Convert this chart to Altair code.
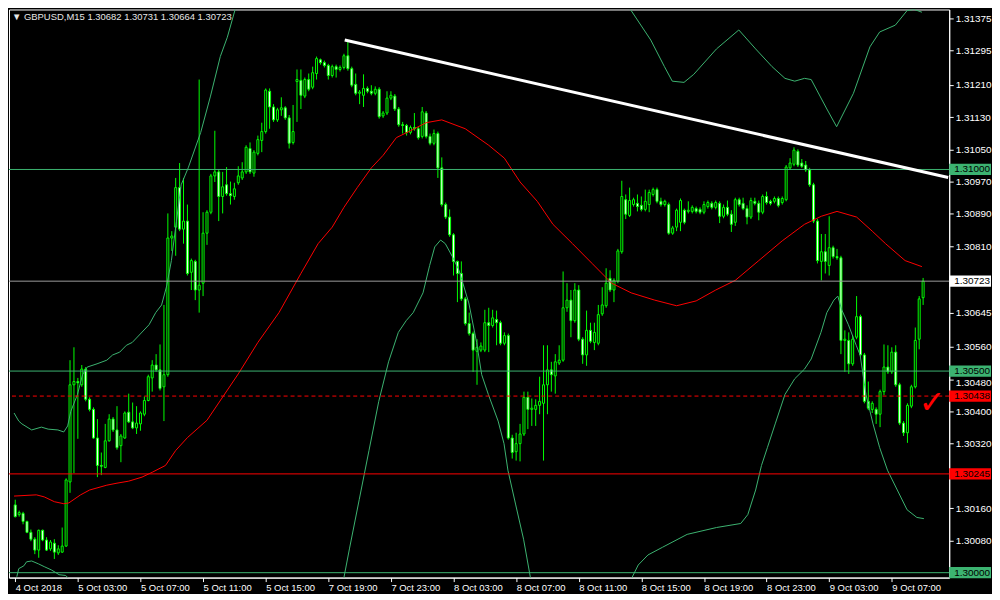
import altair as alt
import pandas as pd
import numpy as np

# ---------------- candle data (GBPUSD M15) ----------------
open_ = [
1.30168,1.30144,1.30147,1.30127,1.30100,1.30083,1.30056,1.30105,1.30081,1.30059,
1.30073,1.30049,1.30051,1.30066,1.30225,1.30466,1.30474,1.30466,1.30505,1.30430,
1.30405,1.30334,1.30266,1.30261,1.30327,1.30381,1.30354,1.30315,1.30334,1.30398,
1.30374,1.30359,1.30369,1.30393,1.30427,1.30483,1.30515,1.30503,1.30461,1.30491,
1.30830,1.30857,1.30955,1.30852,1.30872,1.30745,1.30772,1.30701,1.30718,1.30842,
1.30894,1.30984,1.30994,1.30933,1.30962,1.30940,1.30933,1.30967,1.30979,1.30994,
1.31052,1.30991,1.31040,1.31072,1.31094,1.31194,1.31155,1.31123,1.31148,1.31153,
1.31128,1.31067,1.31218,1.31221,1.31182,1.31223,1.31204,1.31238,1.31272,1.31265,
1.31258,1.31233,1.31255,1.31248,1.31253,1.31282,1.31250,1.31211,1.31189,1.31184,
1.31201,1.31194,1.31189,1.31199,1.31133,1.31140,1.31177,1.31182,1.31150,1.31111,
1.31109,1.31092,1.31104,1.31101,1.31082,1.31140,1.31082,1.31065,1.31089,1.31004,
1.30913,1.30882,1.30838,1.30772,1.30742,1.30679,1.30618,1.30593,1.30549,1.30552,
1.30552,1.30620,1.30613,1.30628,1.30620,1.30569,1.30588,1.30334,1.30300,1.30320,
1.30344,1.30435,1.30405,1.30405,1.30415,1.30420,1.30466,1.30503,1.30488,1.30520,
1.30527,1.30657,1.30676,1.30625,1.30701,1.30579,1.30540,1.30601,1.30571,1.30569,
1.30642,1.30662,1.30730,1.30701,1.30723,1.30796,1.30925,1.30886,1.30913,1.30916,
1.30911,1.30901,1.30913,1.30938,1.30950,1.30921,1.30913,1.30913,1.30842,1.30857,
1.30869,1.30899,1.30896,1.30896,1.30903,1.30901,1.30894,1.30908,1.30916,1.30906,
1.30916,1.30884,1.30906,1.30889,1.30869,1.30925,1.30916,1.30903,1.30882,1.30921,
1.30916,1.30894,1.30933,1.30921,1.30921,1.30928,1.30918,1.30925,1.31004,1.31013,
1.31045,1.31016,1.31011,1.30999,1.30962,1.30872,1.30772,1.30796,1.30762,1.30806,
1.30784,1.30781,1.30576,1.30576,1.30518,1.30584,1.30635,1.30540,1.30425,1.30405,
1.30405,1.30393,1.30449,1.30510,1.30498,1.30547,1.30466,1.30371,1.30347,1.30413,
1.30461,1.30579,1.30682]

high_ = [
1.30181,1.30154,1.30151,1.30129,1.30107,1.30088,1.30107,1.30107,1.30088,1.30081,
1.30083,1.30068,1.30112,1.30234,1.30527,1.30559,1.30483,1.30515,1.30510,1.30435,
1.30410,1.30381,1.30298,1.30369,1.30393,1.30386,1.30413,1.30344,1.30400,1.30444,
1.30422,1.30413,1.30400,1.30437,1.30491,1.30527,1.30542,1.30566,1.30664,1.30891,
1.30847,1.30979,1.31016,1.30979,1.30913,1.30779,1.30776,1.31223,1.30894,1.30899,
1.30989,1.31096,1.31001,1.30994,1.31006,1.30970,1.30967,1.31008,1.31018,1.31060,
1.31067,1.31048,1.31084,1.31116,1.31201,1.31201,1.31162,1.31153,1.31179,1.31157,
1.31135,1.31160,1.31248,1.31248,1.31228,1.31238,1.31255,1.31280,1.31275,1.31270,
1.31262,1.31260,1.31260,1.31258,1.31287,1.31321,1.31255,1.31238,1.31197,1.31236,
1.31206,1.31209,1.31206,1.31204,1.31145,1.31194,1.31194,1.31187,1.31155,1.31118,
1.31113,1.31109,1.31140,1.31106,1.31155,1.31145,1.31089,1.31099,1.31094,1.31030,
1.30918,1.30901,1.30842,1.30774,1.30772,1.30684,1.30645,1.30598,1.30579,1.30571,
1.30652,1.30657,1.30652,1.30650,1.30625,1.30596,1.30593,1.30342,1.30347,1.30369,
1.30449,1.30449,1.30432,1.30430,1.30486,1.30564,1.30564,1.30523,1.30542,1.30564,
1.30747,1.30718,1.30701,1.30718,1.30713,1.30584,1.30650,1.30620,1.30620,1.30664,
1.30708,1.30755,1.30750,1.30730,1.30803,1.30972,1.30938,1.30955,1.30930,1.30938,
1.30933,1.30950,1.30950,1.30955,1.30955,1.30930,1.30925,1.30918,1.30860,1.30903,
1.30928,1.30903,1.30921,1.30911,1.30908,1.30906,1.30921,1.30923,1.30921,1.30923,
1.30921,1.30913,1.30923,1.30899,1.30930,1.30930,1.30930,1.30911,1.30930,1.30930,
1.30923,1.30938,1.30945,1.30925,1.30933,1.30933,1.30933,1.31011,1.31028,1.31055,
1.31050,1.31026,1.31021,1.31004,1.30967,1.30877,1.30840,1.30840,1.30884,1.30811,
1.30803,1.30786,1.30601,1.30596,1.30588,1.30686,1.30640,1.30545,1.30474,1.30425,
1.30410,1.30454,1.30566,1.30564,1.30559,1.30564,1.30471,1.30376,1.30420,1.30466,
1.30608,1.30686,1.30731]

low_ = [
1.30137,1.30139,1.30120,1.30098,1.30078,1.30046,1.30037,1.30078,1.30054,1.30054,
1.30034,1.30044,1.30049,1.30064,1.30198,1.30247,1.30332,1.30461,1.30425,1.30400,
1.30332,1.30237,1.30242,1.30259,1.30325,1.30349,1.30305,1.30274,1.30332,1.30371,
1.30356,1.30344,1.30352,1.30388,1.30425,1.30449,1.30498,1.30452,1.30376,1.30486,
1.30798,1.30786,1.30847,1.30816,1.30737,1.30701,1.30676,1.30645,1.30686,1.30813,
1.30889,1.30969,1.30872,1.30891,1.30935,1.30913,1.30925,1.30962,1.30974,1.30989,
1.30989,1.30982,1.31035,1.31043,1.31089,1.31101,1.31118,1.31118,1.31133,1.31123,
1.31052,1.31062,1.31118,1.31150,1.31177,1.31194,1.31199,1.31223,1.31260,1.31253,
1.31223,1.31228,1.31228,1.31243,1.31248,1.31245,1.31204,1.31184,1.31162,1.31155,
1.31189,1.31184,1.31184,1.31126,1.31128,1.31135,1.31172,1.31145,1.31106,1.31089,
1.31084,1.31087,1.31096,1.31074,1.31077,1.31077,1.31060,1.31060,1.30979,1.30908,
1.30877,1.30833,1.30737,1.30671,1.30674,1.30613,1.30588,1.30498,1.30466,1.30547,
1.30547,1.30547,1.30608,1.30564,1.30564,1.30564,1.30330,1.30283,1.30278,1.30276,
1.30339,1.30356,1.30364,1.30364,1.30393,1.30278,1.30393,1.30449,1.30444,1.30515,
1.30523,1.30647,1.30584,1.30620,1.30574,1.30518,1.30513,1.30569,1.30552,1.30564,
1.30637,1.30657,1.30696,1.30671,1.30718,1.30791,1.30877,1.30882,1.30908,1.30896,
1.30896,1.30896,1.30894,1.30933,1.30916,1.30908,1.30908,1.30838,1.30838,1.30847,
1.30847,1.30864,1.30891,1.30891,1.30891,1.30889,1.30889,1.30903,1.30901,1.30901,
1.30867,1.30879,1.30884,1.30845,1.30860,1.30908,1.30899,1.30864,1.30877,1.30911,
1.30874,1.30889,1.30913,1.30911,1.30916,1.30906,1.30913,1.30921,1.30999,1.31008,
1.31006,1.31004,1.30994,1.30957,1.30867,1.30767,1.30725,1.30742,1.30737,1.30779,
1.30776,1.30542,1.30498,1.30493,1.30513,1.30579,1.30535,1.30420,1.30403,1.30396,
1.30369,1.30361,1.30440,1.30493,1.30493,1.30461,1.30366,1.30339,1.30322,1.30408,
1.30457,1.30554,1.30664]

close_ = [
1.30139,1.30149,1.30127,1.30100,1.30083,1.30056,1.30105,1.30081,1.30056,1.30076,
1.30051,1.30059,1.30066,1.30230,1.30466,1.30474,1.30471,1.30505,1.30430,1.30405,
1.30334,1.30266,1.30264,1.30327,1.30381,1.30354,1.30310,1.30339,1.30396,1.30374,
1.30359,1.30371,1.30396,1.30427,1.30486,1.30515,1.30503,1.30457,1.30491,1.30830,
1.30835,1.30955,1.30852,1.30872,1.30742,1.30774,1.30701,1.30713,1.30842,1.30894,
1.30984,1.30994,1.30933,1.30957,1.30940,1.30935,1.30952,1.30984,1.30994,1.31055,
1.30994,1.31043,1.31074,1.31094,1.31197,1.31155,1.31123,1.31148,1.31153,1.31128,
1.31065,1.31094,1.31223,1.31184,1.31223,1.31199,1.31240,1.31275,1.31265,1.31258,
1.31233,1.31255,1.31248,1.31253,1.31282,1.31250,1.31209,1.31189,1.31192,1.31201,
1.31194,1.31189,1.31199,1.31131,1.31140,1.31177,1.31184,1.31150,1.31111,1.31109,
1.31092,1.31104,1.31101,1.31079,1.31143,1.31082,1.31065,1.31089,1.31004,1.30913,
1.30882,1.30838,1.30772,1.30742,1.30679,1.30618,1.30593,1.30552,1.30559,1.30562,
1.30620,1.30613,1.30632,1.30620,1.30569,1.30588,1.30334,1.30298,1.30320,1.30344,
1.30435,1.30405,1.30408,1.30415,1.30425,1.30466,1.30503,1.30491,1.30523,1.30527,
1.30657,1.30676,1.30625,1.30701,1.30579,1.30540,1.30601,1.30574,1.30596,1.30640,
1.30664,1.30718,1.30701,1.30725,1.30798,1.30933,1.30889,1.30923,1.30925,1.30908,
1.30901,1.30921,1.30943,1.30950,1.30921,1.30913,1.30921,1.30842,1.30855,1.30899,
1.30923,1.30869,1.30899,1.30906,1.30896,1.30894,1.30913,1.30918,1.30906,1.30918,
1.30884,1.30906,1.30889,1.30864,1.30925,1.30913,1.30903,1.30882,1.30923,1.30916,
1.30894,1.30933,1.30918,1.30916,1.30928,1.30911,1.30928,1.31006,1.31016,1.31048,
1.31011,1.31008,1.30999,1.30962,1.30872,1.30774,1.30796,1.30772,1.30806,1.30784,
1.30781,1.30576,1.30579,1.30518,1.30579,1.30635,1.30540,1.30425,1.30408,1.30420,
1.30393,1.30449,1.30510,1.30498,1.30547,1.30466,1.30371,1.30347,1.30415,1.30461,
1.30576,1.30679,1.30723]

x_labels = ["4 Oct 2018", "5 Oct 03:00", "5 Oct 07:00", "5 Oct 11:00", "5 Oct 15:00",
            "7 Oct 19:00", "7 Oct 23:00", "8 Oct 03:00", "8 Oct 07:00", "8 Oct 11:00",
            "8 Oct 15:00", "8 Oct 19:00", "8 Oct 23:00", "9 Oct 03:00", "9 Oct 07:00"]
y_ticks = [1.31375, 1.31295, 1.31210, 1.31130, 1.31050, 1.30970, 1.30890, 1.30810,
           1.30645, 1.30560, 1.30480, 1.30400, 1.30320, 1.30160, 1.30080]

# ---------------- red moving average ----------------
ma_idx = [-0.3, 5.4, 7.4, 10, 12.4, 13.7, 16.7, 19, 23.4, 26, 29, 32.4, 35, 38.4, 41, 44, 49, 57,
          62, 67.4, 73, 77.4, 81, 84, 87.4, 91, 94, 97.4, 101, 105, 109, 115, 121, 125, 129, 133.4,
          137.4, 142.4, 147.4, 152.4, 157.4, 163.4, 169, 174, 179, 184, 190, 196, 201.7, 206, 210,
          215, 219, 222.4, 227.4, 231.7]
ma_val = [1.30190, 1.30193, 1.30188, 1.30176, 1.30171, 1.30173, 1.30193, 1.30205, 1.30217, 1.30222,
          1.30227, 1.30237, 1.30249, 1.30266, 1.30303, 1.30335, 1.30378, 1.30493, 1.30571, 1.30645,
          1.30742, 1.30816, 1.30857, 1.30906, 1.30955, 1.31004, 1.31035, 1.31079, 1.31096, 1.31116,
          1.31123, 1.31101, 1.31060, 1.31028, 1.30969, 1.30921, 1.30864, 1.30816, 1.30767, 1.30718,
          1.30694, 1.30676, 1.30662, 1.30674, 1.30701, 1.30725, 1.30774, 1.30823, 1.30864, 1.30884,
          1.30896, 1.30882, 1.30847, 1.30816, 1.30774, 1.30759]

# ---------------- Bollinger bands (visible pieces) ----------------
ub1_idx = [-0.3, 0.9, 1.7, 4.2, 6.7, 8.4, 10.9, 12.4, 13.4, 14.2, 15.9, 17.2, 18.4, 20.9, 23.4, 24.9,
           26.7, 28.4, 29.9, 34.2, 35.9, 37.4, 38.7, 39.9, 41.2, 42.4, 44.2, 47.4, 49.9, 52.4, 54.2,
           56.2, 57.0]
ub1_val = [1.30396, 1.30376, 1.30369, 1.30354, 1.30361, 1.30356, 1.30354, 1.30349, 1.30364, 1.30400,
           1.30442, 1.30491, 1.30510, 1.30518, 1.30527, 1.30540, 1.30547, 1.30564, 1.30571, 1.30615,
           1.30645, 1.30664, 1.30711, 1.30774, 1.30872, 1.30962, 1.31004, 1.31092, 1.31182, 1.31280,
           1.31328, 1.31397, 1.31420]
ub2_idx = [156.7, 157.4, 162.4, 165.9, 167.9, 170.9, 173.4, 179.2, 184.9, 189.2, 193.4, 196.7, 199.2,
           201.7, 203.4, 207.4, 209.9, 214.2, 218.4, 220.9, 224.9, 227.9, 229.7, 231.7]
ub2_val = [1.31402, 1.31394, 1.31321, 1.31255, 1.31219, 1.31216, 1.31236, 1.31299, 1.31346, 1.31299,
           1.31255, 1.31226, 1.31219, 1.31226, 1.31223, 1.31150, 1.31106, 1.31189, 1.31304, 1.31341,
           1.31358, 1.31394, 1.31397, 1.31390]
lb1_idx = [0.4, 0.9, 2.2, 2.9, 4.2, 5.9, 7.4, 9.2, 10.4, 11.2, 12.9, 14.2]
lb1_val = [1.29990, 1.30010, 1.30017, 1.30027, 1.30029, 1.30022, 1.30015, 1.30007, 1.30000, 1.29995,
           1.29993, 1.29980]
lb2_idx = [83.7, 85.4, 87.9, 90.4, 92.9, 95.4, 97.9, 99.9, 101.7, 104.2, 105.9, 107.2, 108.7, 109.9,
           111.7, 113.4, 115.9, 117.9, 119.2, 120.9, 123.4, 124.9, 125.9, 127.9, 129.9, 131.7]
lb2_val = [1.29973, 1.30059, 1.30181, 1.30303, 1.30425, 1.30523, 1.30596, 1.30625, 1.30645, 1.30694,
           1.30762, 1.30808, 1.30825, 1.30816, 1.30784, 1.30750, 1.30669, 1.30571, 1.30491, 1.30442,
           1.30376, 1.30320, 1.30254, 1.30168, 1.30083, 1.29985]
lb3_idx = [157.2, 159.2, 161.7, 165.4, 171.7, 179.2, 185.4, 187.2, 189.2, 190.7, 192.2, 194.2, 196.7,
           199.2, 201.7, 203.4, 205.9, 207.4, 209.2, 210.2, 211.2, 212.9, 214.9, 215.9, 217.4, 219.2,
           220.9, 222.9, 225.4, 227.9, 230.4, 232.2]
lb3_val = [1.29980, 1.30019, 1.30044, 1.30063, 1.30095, 1.30112, 1.30122, 1.30144, 1.30205, 1.30266,
           1.30310, 1.30369, 1.30442, 1.30481, 1.30505, 1.30530, 1.30596, 1.30645, 1.30676, 1.30686,
           1.30652, 1.30615, 1.30564, 1.30540, 1.30442, 1.30369, 1.30310, 1.30254, 1.30205, 1.30156,
           1.30137, 1.30134]

# ---------------- horizontal levels and price boxes ----------------
level_price = [1.31000, 1.30723, 1.30500, 1.30438, 1.30245, 1.30000]
level_label = ["1.31000", "1.30723", "1.30500", "1.30438", "1.30245", "1.30000"]
level_color = ["#3CB371", "#9A9A9A", "#3CB371", "#FF0000", "#FF0000", "#3CB371"]
level_box = ["#3CB371", "#FFFFFF", "#3CB371", "#FF0000", "#FF0000", "#3CB371"]
level_dashed = [False, False, False, True, False, False]

trend_idx = [84.2, 238.4]
trend_val = [1.31321, 1.30980]
check_idx = [234.3]
check_val = [1.30420]

title_text = "\u25BC GBPUSD,M15  1.30682 1.30731 1.30664 1.30723"

# ---------------- frames ----------------
n = len(open_)
candles = pd.DataFrame({"i": np.arange(n), "o": open_, "h": high_, "l": low_, "c": close_})
candles["top"] = candles[["o", "c"]].max(axis=1)
candles["bot"] = candles[["o", "c"]].min(axis=1)
candles["dir"] = np.where(candles["c"] >= candles["o"], "bull", "bear")

ma_df = pd.DataFrame({"idx": ma_idx, "val": ma_val})
bands_df = pd.concat([
    pd.DataFrame({"idx": ub1_idx, "val": ub1_val, "seg": "u1"}),
    pd.DataFrame({"idx": ub2_idx, "val": ub2_val, "seg": "u2"}),
    pd.DataFrame({"idx": lb1_idx, "val": lb1_val, "seg": "l1"}),
    pd.DataFrame({"idx": lb2_idx, "val": lb2_val, "seg": "l2"}),
    pd.DataFrame({"idx": lb3_idx, "val": lb3_val, "seg": "l3"}),
], ignore_index=True)
levels_df = pd.DataFrame({"price": level_price, "label": level_label, "col": level_color,
                          "box": level_box, "dashed": level_dashed})
levels_df["b1"] = levels_df["price"] + 0.00014
levels_df["b2"] = levels_df["price"] - 0.00014
trend_df = pd.DataFrame({"idx": trend_idx, "val": trend_val})
check_df = pd.DataFrame({"idx": check_idx, "val": check_val})
one = pd.DataFrame({"k": [0]})

W, H = 945, 571
xs = alt.Scale(domain=[-0.325, 237.4], nice=False, zero=False)
ys = alt.Scale(domain=[1.299878, 1.313968], nice=False, zero=False)
FONT = "Liberation Sans"

label_expr = "[" + ",".join("'%s'" % s for s in x_labels) + "][round(datum.value/16)]"
x_axis = alt.Axis(values=list(range(0, 16 * len(x_labels), 16)), labelExpr=label_expr,
                  labelAlign="left", labelColor="white", tickColor="white", domainColor="white",
                  tickSize=4, labelPadding=1, labelFont=FONT, labelFontSize=9.5, grid=False,
                  title=None, labelOverlap=False, labelFlush=False, labelBaseline="top")
y_axis = alt.Axis(orient="right", values=y_ticks, format=".5f", labelColor="white",
                  tickColor="white", domainColor="white", tickSize=4, labelPadding=2,
                  labelFont=FONT, labelFontSize=10, grid=False, title=None,
                  labelOverlap=False, labelFlush=False,
                  labelOffset=alt.condition("abs(datum.value - 1.3048) < 0.000001",
                                            alt.value(3), alt.value(0)))


def X(field):
    return alt.X(field, scale=xs, axis=x_axis)


def Y(field):
    return alt.Y(field, scale=ys, axis=y_axis)


wick = alt.Chart(candles).mark_rule(color="#00FF00", strokeWidth=1).encode(
    x=X("i:Q"), y=Y("l:Q"), y2="h:Q")

body = alt.Chart(candles).mark_bar(size=2, stroke="#00FF00", strokeWidth=1, orient="vertical").encode(
    x=X("i:Q"), y=Y("bot:Q"), y2="top:Q",
    fill=alt.Fill("dir:N", scale=alt.Scale(domain=["bull", "bear"], range=["#000000", "#FFFFFF"]),
                  legend=None))

bands = alt.Chart(bands_df).mark_line(color="#3CB371", strokeWidth=1, clip=True).encode(
    x=X("idx:Q"), y=Y("val:Q"), detail="seg:N")

ma = alt.Chart(ma_df).mark_line(color="#FF0000", strokeWidth=1, clip=True).encode(
    x=X("idx:Q"), y=Y("val:Q"))

lv_solid = alt.Chart(levels_df).transform_filter("!datum.dashed").mark_rule(strokeWidth=1).encode(
    y=Y("price:Q"), color=alt.Color("col:N", scale=None))

lv_dash = alt.Chart(levels_df).transform_filter("datum.dashed").mark_rule(
    strokeWidth=1, strokeDash=[4, 3]).encode(
    y=Y("price:Q"), color=alt.Color("col:N", scale=None))

trend = alt.Chart(trend_df).mark_line(color="white", strokeWidth=3, clip=True).encode(
    x=X("idx:Q"), y=Y("val:Q"))

boxes = alt.Chart(levels_df).mark_rect().encode(
    x=alt.value(W), x2=alt.value(W + 42),
    y=Y("b1:Q"), y2="b2:Q",
    color=alt.Color("box:N", scale=None))

box_text = alt.Chart(levels_df).mark_text(align="left", baseline="middle", font=FONT,
                                          fontSize=10, color="black").encode(
    x=alt.value(W + 5), y=Y("price:Q"), text="label:N")

check = alt.Chart(check_df).mark_text(text="\u2713", color="#FF0000", fontSize=32,
                                      fontWeight="bold", baseline="middle", align="center",
                                      font="DejaVu Sans").encode(
    x=X("idx:Q"), y=Y("val:Q"))

title = alt.Chart(one).mark_text(text=title_text, align="left", baseline="middle", font=FONT,
                                 fontSize=9.5, color="#E6E6E6").encode(
    x=alt.value(3), y=alt.value(8))

chart = alt.layer(wick, body, bands, ma, lv_solid, lv_dash, trend, boxes, box_text, check, title).properties(
    width=W, height=H, padding={"left": 0, "top": 0, "right": 0, "bottom": 0}
).configure(background="black").configure_view(stroke="white", strokeWidth=1)

chart.save("out.html", embed_options={"renderer": "svg", "actions": False})
